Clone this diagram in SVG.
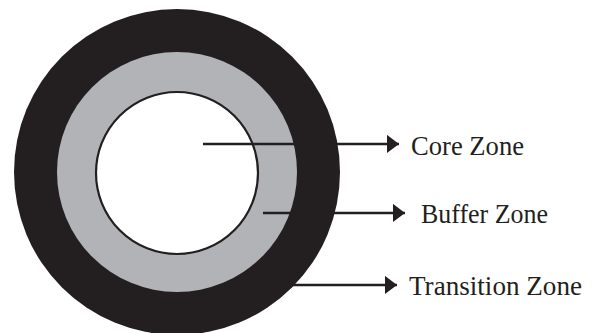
<svg xmlns="http://www.w3.org/2000/svg" width="596" height="333" viewBox="0 0 596 333">
  <style>
    .lbl { font-family: "Liberation Serif", "Times New Roman", serif; font-size: 26.5px; fill: #231f20; }
    .conn { stroke: #231f20; stroke-width: 2.5; fill: none; }
  </style>
  <defs>
    <marker id="arrow" markerUnits="userSpaceOnUse" markerWidth="13" markerHeight="20" refX="12.5" refY="9.5" orient="auto">
      <path d="M0,0 L12.5,9.5 L0,19 Z" fill="#231f20"/>
    </marker>
  </defs>
  <rect width="596" height="333" fill="#ffffff"/>
  <g id="transition-zone">
    <circle cx="177" cy="172" r="163" fill="#231f20"/>
  </g>
  <g id="buffer-zone">
    <circle cx="177" cy="172" r="120" fill="#b1b3b6"/>
  </g>
  <g id="core-zone">
    <circle cx="177" cy="173" r="81" fill="#ffffff" stroke="#231f20" stroke-width="2.2"/>
  </g>
  <g id="connectors">
    <line class="conn" x1="203" y1="144" x2="399" y2="144" marker-end="url(#arrow)"/>
    <line class="conn" x1="263" y1="213" x2="405" y2="213" marker-end="url(#arrow)"/>
    <line class="conn" x1="285" y1="285" x2="397" y2="285" marker-end="url(#arrow)"/>
  </g>
  <g id="labels">
    <text class="lbl" x="411" y="155" textLength="113" lengthAdjust="spacingAndGlyphs">Core Zone</text>
    <text class="lbl" x="421" y="223" textLength="127" lengthAdjust="spacingAndGlyphs">Buffer Zone</text>
    <text class="lbl" x="409" y="295" textLength="173" lengthAdjust="spacingAndGlyphs">Transition Zone</text>
  </g>
</svg>
